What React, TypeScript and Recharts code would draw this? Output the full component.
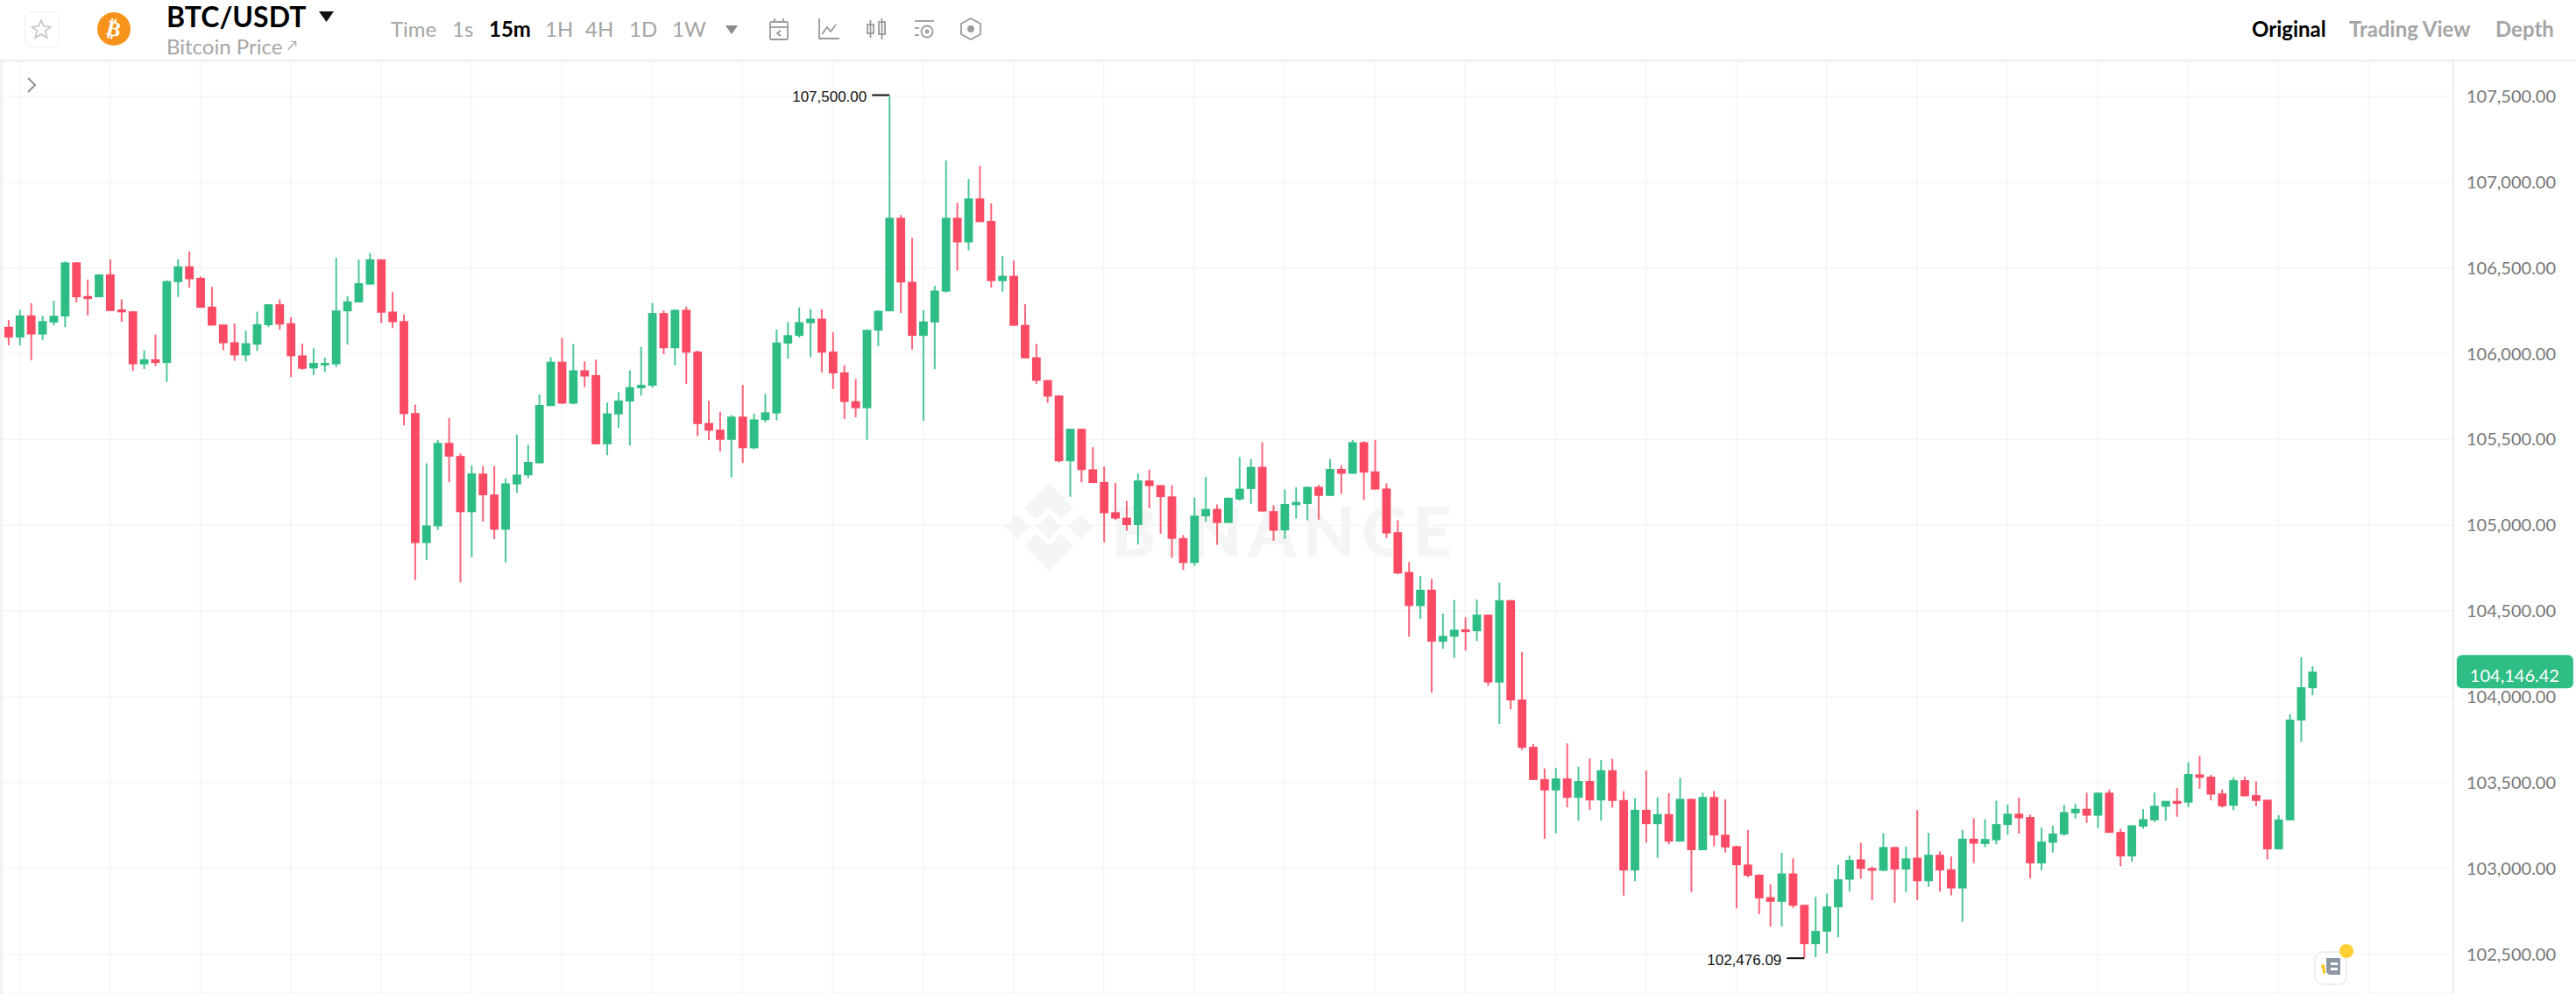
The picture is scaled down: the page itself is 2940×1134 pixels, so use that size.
import React from "react";
import { ComposedChart, Bar, XAxis, YAxis, CartesianGrid, ReferenceDot } from "recharts";

const opens = [
106157,106094,106223,106112,106182,106217,106532,106336,106329,106462,
106258,106247,105938,105967,105946,106417,106509,106442,106274,106170,
106067,105990,106053,106166,106288,106178,105990,105914,105932,105938,
106247,106299,106403,106550,106245,106190,105654,104896,104994,105480,
105404,105076,105301,105179,104974,105238,105291,105361,105695,105953,
105709,105903,105875,105472,105646,105721,105799,105813,106237,106032,
106256,106012,105596,105557,105498,105633,105449,105613,105652,106059,
106104,106178,106204,106012,105891,105723,105682,106135,106247,106792,
106419,106104,106182,106362,106792,106649,106905,106774,106423,106454,
106168,105979,105846,105756,105373,105562,105326,105252,105076,105044,
105001,105261,105234,105168,104925,104780,105052,105095,105013,105150,
105211,105340,105082,104970,105117,105124,105224,105171,105328,105300,
105484,105314,105214,104959,104728,104529,104624,104321,104350,104393,
104382,104479,104083,104563,103984,103708,103520,103454,103524,103411,
103509,103396,103572,103398,102988,103341,103258,103316,103156,103405,
103106,103416,103196,103129,103022,102963,102832,102805,102970,102787,
102558,102631,102773,102934,103052,103002,102986,103124,102993,103062,
102925,103079,102994,102883,103173,103142,103164,103253,103318,103299,
103029,103149,103197,103321,103347,103307,103441,103212,103070,103243,
103280,103359,103393,103383,103548,103534,103437,103365,103514,103427,
103400,103111,103280,103862,104050];

const closes = [
106094,106223,106112,106190,106221,106532,106329,106319,106462,106249,
106241,105938,105967,105946,106423,106509,106434,106268,106164,106061,
105990,106061,106172,106288,106170,105985,105912,105946,105946,106252,
106305,106411,106550,106239,106184,105648,104896,104999,105480,105400,
105076,105302,105175,104974,105244,105295,105369,105701,105953,105709,
105903,105867,105472,105652,105727,105805,105818,106237,106032,106256,
106006,105590,105551,105498,105633,105449,105617,105658,106065,106108,
106184,106204,106006,105885,105719,105682,106139,106250,106792,106415,
106104,106188,106368,106792,106649,106905,106767,106423,106454,106163,
105973,105842,105750,105373,105562,105322,105246,105070,105039,105001,
105261,105228,105164,104921,104780,105056,105095,105013,105160,105213,
105340,105080,104968,105124,105135,105224,105171,105328,105300,105484,
105307,105208,104952,104719,104529,104624,104321,104355,104391,104377,
104479,104083,104563,103979,103703,103515,103454,103524,103411,103509,
103396,103572,103393,102988,103341,103258,103316,103156,103405,103106,
103416,103192,103122,103018,102957,102825,102805,102970,102782,102558,
102635,102778,102936,103049,102997,102986,103124,102993,103058,102925,
103079,102988,102883,103173,103144,103171,103258,103318,103292,103029,
103156,103203,103328,103347,103307,103441,103207,103070,103251,103287,
103365,103393,103376,103550,103528,103430,103362,103514,103420,103393,
103111,103285,103867,104056,104146.42];

const highs = [
106196,106256,106295,106221,106309,106538,106534,106432,106462,106550,
106317,106247,106020,106112,106428,106552,106596,106450,106389,106170,
106176,106135,106245,106288,106317,106213,106059,106032,105977,106559,
106336,106548,106587,106550,106360,106229,105703,105361,105496,105625,
105418,105349,105345,105345,105273,105529,105469,105762,105979,106092,
106057,105955,105965,105715,105775,105903,106039,106295,106252,106256,
106274,106018,105725,105662,105643,105818,105650,105766,106141,106184,
106270,106260,106260,106125,105934,105852,106141,106252,107500,106808,
106675,106254,106395,107126,106880,107019,107095,106876,106569,106542,
106288,106057,105846,105756,105562,105562,105455,105343,105246,105142,
105302,105324,105234,105234,104943,105162,105281,105121,105162,105398,
105386,105484,105117,105208,105221,105224,105235,105386,105350,105497,
105490,105497,105244,105029,104785,104705,104687,104484,104565,104463,
104567,104479,104665,104563,104262,103724,103583,103586,103728,103592,
103640,103631,103638,103450,103409,103570,103414,103438,103527,103405,
103441,103450,103402,103131,103224,102966,102907,103090,103058,102787,
102834,102853,103020,103074,103149,103011,103205,103124,103126,103340,
103207,103099,103069,103224,103292,103287,103394,103371,103412,103314,
103238,103249,103371,103377,103441,103441,103458,103231,103251,103345,
103442,103393,103468,103618,103655,103545,103459,103529,103534,103507,
103401,103309,103899,104230,104178];

const lows = [
106049,106049,105961,106080,106166,106155,106299,106223,106329,106249,
106186,105899,105910,105928,105836,106331,106385,106268,106164,106020,
105959,105955,106016,106155,106139,105865,105906,105875,105893,105922,
106053,106299,106403,106178,106149,105582,104681,104796,104972,105250,
104667,104814,105021,104919,104784,105189,105275,105361,105695,105707,
105705,105805,105472,105408,105568,105465,105756,105801,105998,105932,
105824,105519,105496,105430,105279,105363,105443,105600,105611,105971,
106094,105979,105891,105795,105619,105629,105498,106043,106247,106237,
106024,105609,105910,106356,106485,106602,106767,106385,106362,106163,
105973,105824,105713,105365,105166,105250,105246,104900,105031,104968,
104888,105099,104951,104810,104739,104763,105021,104886,105013,105144,
105125,105080,104910,104920,105040,105029,105033,105171,105183,105300,
105147,105208,104925,104714,104350,104454,104024,104280,104226,104269,
104325,104063,103841,103927,103690,103515,103172,103205,103355,103278,
103341,103278,103353,102841,102925,103151,103061,103140,103156,102862,
103106,103129,103092,102767,102948,102733,102660,102660,102769,102476.09,
102482,102504,102599,102866,102939,102814,102986,102800,102862,102814,
102893,102864,102842,102688,103031,103123,103140,103195,103202,102941,
102990,103092,103190,103289,103265,103234,103207,103012,103038,103231,
103270,103277,103301,103357,103464,103396,103355,103338,103420,103362,
103052,103111,103280,103737,104009];

const priceTicks = [102500,103000,103500,104000,104500,105000,105500,106000,106500,107000,107500];
const lastPrice = 104146.42;
const intervals = ["1s","15m","1H","4H","1D","1W"];
const views = ["Original","Trading View","Depth"];

const UP = "#2EBD85";
const DOWN = "#FB4A63";
const EMPTY_SLOTS = 12;
const rows = [
  ...opens.map((open, i) => ({ slot: i, open, close: closes[i], high: highs[i], low: lows[i] })),
  ...Array.from({ length: EMPTY_SLOTS }, (_, k) => ({ slot: opens.length + k })),
] as any[];
const gridSlots = rows.filter((r) => r.slot % 8 === 1).map((r) => r.slot);
const maxHigh = Math.max(...highs);
const minLow = Math.min(...lows);
const fmt = (v: number) => v.toLocaleString("en-US", { minimumFractionDigits: 2, maximumFractionDigits: 2 });
const FONT = "Lato, 'Open Sans', sans-serif";
const MARK_FONT = "'Liberation Sans', Arial, sans-serif";

function Candle(props: any) {
  const { x, y, width, height, payload } = props;
  if (!payload || payload.high == null || !Number.isFinite(y)) return null;
  const h = Math.abs(height);
  const perUnit = h / (payload.high - payload.low);
  const yOf = (p: number) => y + (payload.high - p) * perUnit;
  const color = payload.close >= payload.open ? UP : DOWN;
  const top = yOf(Math.max(payload.open, payload.close));
  const bot = yOf(Math.min(payload.open, payload.close));
  const cx = x + width / 2;
  return (
    <g>
      <rect x={cx - 1} y={y} width={2} height={h} fill={color} opacity={0.85} />
      <rect x={x} y={top} width={width} height={Math.max(bot - top, 2)} fill={color} />
      {payload.high === maxHigh && (
        <g>
          <line x1={cx - 20} x2={cx} y1={y - 1.5} y2={y - 1.5} stroke="#111" strokeWidth={2} />
          <text x={cx - 26} y={y + 6} textAnchor="end" fontSize={17} fill="#111" fontFamily={MARK_FONT}>{fmt(payload.high)}</text>
        </g>
      )}
      {payload.low === minLow && (
        <g>
          <line x1={cx - 20} x2={cx} y1={y + h} y2={y + h} stroke="#111" strokeWidth={2} />
          <text x={cx - 26} y={y + h + 8} textAnchor="end" fontSize={17} fill="#111" fontFamily={MARK_FONT}>{fmt(payload.low)}</text>
        </g>
      )}
    </g>
  );
}

function PriceBadge(props: any) {
  const { cx, cy } = props;
  return (
    <g>
      <rect x={cx + 165} y={cy - 19} width={133} height={38} rx={6} fill={UP} />
      <text x={cx + 231} y={cy + 12} textAnchor="middle" fontSize={20} fill="#fff" fontFamily={FONT}>{fmt(lastPrice)}</text>
    </g>
  );
}

const T = ({ x, y, size = 24, color = "#A5A5A5", weight = 400, children }: any) => (
  <div style={{ position: "absolute", left: x, top: y, fontSize: size, color, fontWeight: weight, lineHeight: 1, whiteSpace: "nowrap", fontFamily: FONT }}>{children}</div>
);

const Icon = ({ x, children }: any) => (
  <svg style={{ position: "absolute", left: x, top: 19 }} width={28} height={28} viewBox="0 0 28 28" fill="none" stroke="#9A9A9A" strokeWidth={1.8}>{children}</svg>
);

const intervalX = [516, 558, 622, 668, 718, 767];

export default function App() {
  return (
    <div style={{ position: "absolute", left: 0, top: 0, width: 2940, height: 1134, overflow: "hidden", background: "#fff" }}>
      {/* watermark */}
      <svg style={{ position: "absolute", left: 1147, top: 551 }} width={100} height={100} viewBox="0 0 100 100" fill="#F4F6F5">
        <polygon points="50,0 78,28 64,42 50,28 36,42 22,28" />
        <polygon points="50,100 78,72 64,58 50,72 36,58 22,72" />
        <polygon points="50,36 64,50 50,64 36,50" />
        <polygon points="14,36 28,50 14,64 0,50" />
        <polygon points="86,36 100,50 86,64 72,50" />
      </svg>
      <T x={1268} y={566} size={78} color="#F4F6F5" weight={900}>
        <span style={{ letterSpacing: 7 }}>BINANCE</span>
      </T>

      <div style={{ position: "absolute", left: 0, top: 0 }}>
        <ComposedChart width={2940} height={1134} data={rows} margin={{ top: 70, right: 0, bottom: 0, left: 3 }} barCategoryGap={0}>
          <CartesianGrid stroke="#F5F5F5" strokeWidth={1.5} />
          <XAxis dataKey="slot" type="category" hide ticks={gridSlots} interval={0} />
          <YAxis
            orientation="right"
            yAxisId={0}
            width={140}
            type="number"
            domain={[102267.5, 107704]}
            allowDataOverflow
            ticks={priceTicks}
            tickFormatter={fmt}
            tickLine={false}
            tickSize={0}
            tickMargin={15}
            interval={0}
            axisLine={{ stroke: "#EDEDED", strokeWidth: 2 }}
            tick={{ fill: "#777", fontSize: 20, fontFamily: FONT, textAnchor: "start" }}
          />
          <Bar dataKey={(d: any) => [d.low, d.high]} barSize={9.8} shape={<Candle />} isAnimationActive={false} />
          <ReferenceDot x={opens.length - 1} y={lastPrice} ifOverflow="visible" shape={<PriceBadge />} />
        </ComposedChart>
      </div>

      {/* header */}
      <div style={{ position: "absolute", left: 0, top: 0, width: 2940, height: 68, background: "#fff", borderBottom: "2px solid #EDEDED" }} />
      <div style={{ position: "absolute", left: 0, top: 70, width: 2, height: 1064, background: "#F2F2F2" }} />
      <div style={{ position: "absolute", left: 28, top: 13, width: 38, height: 39, border: "1.5px solid #EEE", borderRadius: 8 }} />
      <svg style={{ position: "absolute", left: 35, top: 21 }} width={24} height={24} viewBox="0 0 24 24" fill="none" stroke="#C4C4C4" strokeWidth={1.6}>
        <polygon points="12,2 15,9 22.5,9.6 16.8,14.4 18.6,22 12,18 5.4,22 7.2,14.4 1.5,9.6 9,9" />
      </svg>
      <svg style={{ position: "absolute", left: 111, top: 14 }} width={38} height={38}>
        <circle cx={19} cy={19} r={19} fill="#F7931A" />
        <text x={19} y={27} textAnchor="middle" fontSize={24} fontWeight={700} fill="#fff" fontFamily="'DejaVu Sans'" transform="rotate(14 19 19)">₿</text>
      </svg>
      <T x={190} y={3} size={32} color="#000" weight={700}>BTC/USDT</T>
      <svg style={{ position: "absolute", left: 364, top: 13 }} width={17} height={12}><polygon points="0,0 17,0 8.5,12" fill="#111" /></svg>
      <T x={190} y={41} size={24}>Bitcoin Price</T>
      <T x={328} y={44} size={15}>↗</T>
      <T x={446} y={21} size={24}>Time</T>
      {intervals.map((s, i) => (
        <T key={s} x={intervalX[i]} y={21} size={24} color={s === "15m" ? "#000" : "#A5A5A5"} weight={s === "15m" ? 700 : 400}>{s}</T>
      ))}
      <svg style={{ position: "absolute", left: 828, top: 29 }} width={14} height={10}><polygon points="0,0 14,0 7,10" fill="#8A8A8A" /></svg>
      <Icon x={875}><rect x="4" y="6" width="20" height="20" rx="1.5" /><line x1="4" y1="12" x2="24" y2="12" /><line x1="9" y1="2" x2="9" y2="7" /><line x1="19" y1="2" x2="19" y2="7" /><polyline points="16,16 12,19 16,22" /></Icon>
      <Icon x={932}><polyline points="3,2 3,25 26,25" /><polyline points="6,20 12,12 16,17 22,9" /></Icon>
      <Icon x={986}><rect x="4" y="9" width="7" height="10" /><line x1="7.5" y1="4" x2="7.5" y2="24" /><rect x="17" y="6" width="7" height="14" /><line x1="20.5" y1="2" x2="20.5" y2="26" /></Icon>
      <Icon x={1041}><line x1="3" y1="5" x2="25" y2="5" /><line x1="3" y1="13" x2="8" y2="13" /><line x1="3" y1="21" x2="8" y2="21" /><circle cx="17" cy="17" r="6.5" /><circle cx="17" cy="17" r="1.5" /></Icon>
      <Icon x={1094}><polygon points="14,2 25,8 25,20 14,26 3,20 3,8" /><circle cx="14" cy="14" r="3" fill="#9A9A9A" /></Icon>
      {views.map((s, i) => (
        <T key={s} x={[2570, 2681, 2848][i]} y={21} size={24} color={i === 0 ? "#000" : "#A5A5A5"} weight={700}>{s}</T>
      ))}

      {/* sidebar toggle */}
      <svg style={{ position: "absolute", left: 29, top: 88 }} width={14} height={18} fill="none" stroke="#8A8A8A" strokeWidth={1.8}><polyline points="3,1 11,9 3,17" /></svg>

      {/* notification button */}
      <div style={{ position: "absolute", left: 2641, top: 1085, width: 34, height: 35, border: "2px solid #EFEFEF", borderRadius: 10, background: "#fff" }} />
      <svg style={{ position: "absolute", left: 2648, top: 1092 }} width={26} height={24}>
        <polygon points="1,9 5,8 6,18 4,20" fill="#F5C518" />
        <polygon points="7,1 23,1 23,20 10,20 7,17" fill="#8E97A3" />
        <rect x={12} y={6} width={8} height={3} fill="#fff" />
        <rect x={12} y={12} width={8} height={3} fill="#fff" />
      </svg>
      <div style={{ position: "absolute", left: 2670, top: 1077, width: 16, height: 16, borderRadius: 8, background: "#FFCF33" }} />
    </div>
  );
}
